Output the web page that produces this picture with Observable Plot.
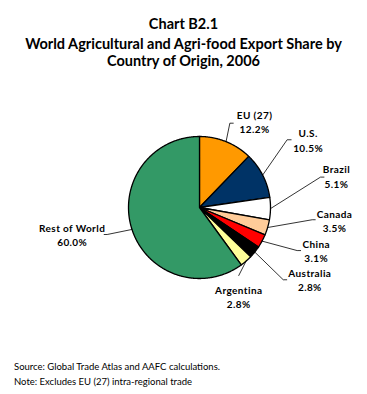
<!DOCTYPE html>
<html><head><meta charset="utf-8">
<script src="https://cdn.jsdelivr.net/npm/d3@7"></script>
<script src="https://cdn.jsdelivr.net/npm/@observablehq/plot@0.6"></script>
<style>
body{margin:0;background:#fff;font-family:Lato,"Open Sans",sans-serif;width:367px;height:394px;overflow:hidden;color:#000}
#title{height:72px;box-sizing:border-box;padding-top:15px;text-align:center;font-weight:bold;font-size:14.5px}
#title .t1{line-height:18px}
#title .t2{line-height:17px;margin-top:2px}
#chart{height:280px}
#foot{padding-top:7px;padding-left:14px;font-size:9.5px;line-height:15px}
#chart text{letter-spacing:0.4px}
</style></head><body>
<div id="title"><div class="t1">Chart B2.1</div><div class="t2">World Agricultural and Agri-food Export Share by<br>Country of Origin, 2006</div></div>
<div id="chart"></div>
<div id="foot"><div>Source: Global Trade Atlas and AAFC calculations.</div><div>Note: Excludes EU (27) intra-regional trade</div></div>
<script>
// ---- data ----
const countries = ["EU (27)", "U.S.", "Brazil", "Canada", "China", "Australia", "Argentina", "Rest of World"];
const shares = [12.2, 10.5, 5.1, 3.5, 3.1, 2.8, 2.8, 60.0];
const valueLabels = ["12.2%", "10.5%", "5.1%", "3.5%", "3.1%", "2.8%", "2.8%", "60.0%"];
const sliceColors = ["#FF9900", "#003366", "#FFFFFF", "#FFCC99", "#FF0000", "#000000", "#FFFF99", "#339966"];

// ---- label layout (leader elbow in polar form, label offsets in px) ----
const elbowAngle = [19.8, 52.3, 75.9, 96.2, 113.8, 130.8, 150, 253.7];
const elbowRadius = [1.262, 1.56, 1.757, 1.597, 1.503, 1.558, 1.106, 1.355];
const stubPx = [3.4, 4, 3.5, 3, 3.5, 3.5, 0, -3];
const labelDx = [24.7, 21, 16, 22.3, 19, 26.6, 0, -35];
const labelDy = [-1.7, 0, -1.2, 0.4, 0, -0.3, 21, 0];

const W = 367, H = 280, R = 71, CX = 199, CY = 135;
const u = 1 / R;
const total = d3.sum(shares);

const slices = [];
let acc = 0;
shares.forEach((v, i) => {
  const a0 = acc / total * 360, a1 = (acc + v) / total * 360;
  acc += v;
  const pts = [{k: i, x: 0, y: 0, c: sliceColors[i]}];
  const n = Math.max(2, Math.ceil((a1 - a0) / 0.5));
  for (let j = 0; j <= n; j++) {
    const a = (a0 + (a1 - a0) * j / n) * Math.PI / 180;
    pts.push({k: i, x: Math.sin(a), y: Math.cos(a), c: sliceColors[i]});
  }
  slices.push({i, a0, a1, mid: (a0 + a1) / 2, pts});
});
const polyPts = slices.flatMap(s => s.pts);

const leaderPts = [];
const labels = [];
slices.forEach((s, i) => {
  const m = s.mid * Math.PI / 180;
  const e = elbowAngle[i] * Math.PI / 180;
  const ex = elbowRadius[i] * Math.sin(e), ey = elbowRadius[i] * Math.cos(e);
  leaderPts.push({k: i, x: Math.sin(m), y: Math.cos(m)});
  leaderPts.push({k: i, x: ex, y: ey});
  if (stubPx[i] !== 0) leaderPts.push({k: i, x: ex + stubPx[i] * u, y: ey});
  labels.push({x: ex + labelDx[i] * u, y: ey - labelDy[i] * u, t: countries[i] + "\n" + valueLabels[i]});
});

const plot = Plot.plot({
  width: W, height: H,
  margin: 0,
  x: {domain: [-CX * u, (W - CX) * u], range: [0, W], axis: null},
  y: {domain: [-(H - CY) * u, CY * u], range: [H, 0], axis: null},
  color: {type: "identity"},
  style: {fontFamily: "Lato, 'Open Sans', sans-serif", background: "#fff"},
  marks: [
    Plot.line(polyPts, {x: "x", y: "y", z: "k", fill: "c", stroke: "#000", strokeWidth: 1.3, curve: "linear-closed", strokeLinejoin: "round"}),
    Plot.line(leaderPts, {x: "x", y: "y", z: "k", stroke: "#000", strokeWidth: 0.8}),
    Plot.text(labels, {x: "x", y: "y", text: "t", fontSize: 10, fontWeight: "bold", fill: "#000", textAnchor: "middle", lineAnchor: "middle", lineHeight: 1.45})
  ]
});
document.getElementById("chart").appendChild(plot);
</script>
</body></html>
